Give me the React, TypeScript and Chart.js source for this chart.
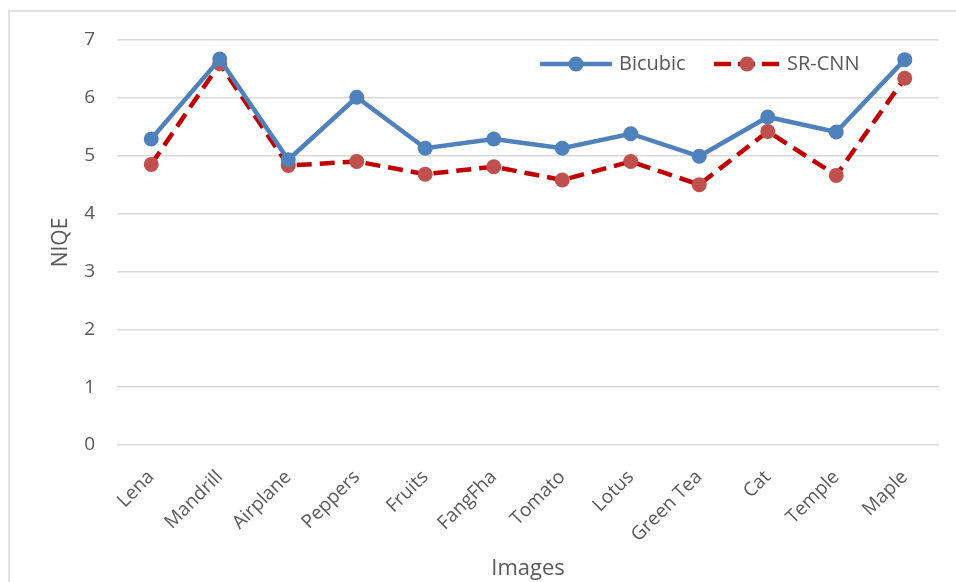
import React, { useEffect, useRef } from "react";
import { Chart, registerables } from "chart.js";

Chart.register(...registerables);

const categories = ["Lena", "Mandrill", "Airplane", "Peppers", "Fruits", "FangFha", "Tomato", "Lotus", "Green Tea", "Cat", "Temple", "Maple"];
const bicubic = [5.29, 6.67, 4.93, 6.01, 5.13, 5.29, 5.13, 5.38, 4.99, 5.67, 5.41, 6.66];
const srcnn = [4.85, 6.59, 4.83, 4.90, 4.68, 4.81, 4.58, 4.90, 4.50, 5.42, 4.66, 6.34];
const yTicks = [0, 1, 2, 3, 4, 5, 6, 7];

const FONT = "'Open Sans', 'Noto Sans', sans-serif";
const TEXT = "#595959";
const BLUE = "#4F81BD";
const RED_LINE = "#C00000";
const RED_PT = "#C0504D";

const framePlugin = {
  id: "frame",
  beforeDraw(chart: any) {
    const ctx = chart.ctx;
    ctx.save();
    ctx.fillStyle = "#ffffff";
    ctx.fillRect(0, 0, chart.width, chart.height);
    ctx.strokeStyle = "#D9D9D9";
    ctx.lineWidth = 1.5;
    ctx.strokeRect(9, 11, chart.width + 20, chart.height + 20);
    ctx.restore();
  },
};

const legendPlugin = {
  id: "customLegend",
  afterDraw(chart: any) {
    const ctx = chart.ctx;
    const area = chart.chartArea;
    const y = area.top + 24;
    const items = [
      { label: chart.data.datasets[0].label, x: area.right - 399, w: 72, line: BLUE, pt: BLUE, dash: [] as number[] },
      { label: chart.data.datasets[1].label, x: area.right - 225, w: 66, line: RED_LINE, pt: RED_PT, dash: [17, 7] },
    ];
    ctx.save();
    for (const it of items) {
      ctx.strokeStyle = it.line;
      ctx.lineWidth = 4.5;
      ctx.setLineDash(it.dash);
      ctx.lineCap = "butt";
      ctx.beginPath();
      ctx.moveTo(it.x, y);
      ctx.lineTo(it.x + it.w, y);
      ctx.stroke();
      ctx.setLineDash([]);
      ctx.fillStyle = it.pt;
      ctx.beginPath();
      ctx.arc(it.x + it.w / 2, y, 7.5, 0, Math.PI * 2);
      ctx.fill();
      ctx.fillStyle = TEXT;
      ctx.font = `20px ${FONT}`;
      ctx.textBaseline = "middle";
      ctx.textAlign = "left";
      ctx.fillText(it.label, it.x + it.w + 7, y);
    }
    ctx.restore();
  },
};

export default function App() {
  const ref = useRef<HTMLCanvasElement | null>(null);
  useEffect(() => {
    if (!ref.current) return;
    const chart = new Chart(ref.current, {
      type: "line",
      data: {
        labels: categories,
        datasets: [
          {
            label: "Bicubic",
            data: bicubic,
            borderColor: BLUE,
            backgroundColor: BLUE,
            borderWidth: 4.5,
            pointRadius: 7.5,
            pointHoverRadius: 7.5,
            pointBackgroundColor: BLUE,
            pointBorderWidth: 0,
            tension: 0,
          },
          {
            label: "SR-CNN",
            data: srcnn,
            borderColor: RED_LINE,
            backgroundColor: RED_PT,
            borderWidth: 4.5,
            borderDash: [15, 8],
            pointRadius: 7.5,
            pointHoverRadius: 7.5,
            pointBackgroundColor: RED_PT,
            pointBorderWidth: 0,
            tension: 0,
          },
        ],
      },
      options: {
        responsive: false,
        animation: false,
        layout: { padding: { left: 40, top: 40, right: 17, bottom: 0 } },
        plugins: { legend: { display: false }, tooltip: { enabled: false } },
        scales: {
          x: {
            offset: true,
            grid: { display: false, drawTicks: false },
            border: { display: false },
            ticks: {
              autoSkip: false,
              maxRotation: 45,
              minRotation: 45,
              padding: 21,
              color: TEXT,
              font: { family: FONT, size: 19 },
            },
            title: {
              display: true,
              text: "Images",
              color: TEXT,
              font: { family: FONT, size: 22 },
              padding: { top: 0, bottom: 0 },
            },
            afterFit(scale: any) {
              scale.height = 137;
            },
          },
          y: {
            min: 0,
            max: 7,
            afterBuildTicks(scale: any) {
              scale.ticks = yTicks.map((v) => ({ value: v }));
            },
            grid: { color: "#D9D9D9", lineWidth: 1.5, drawTicks: false },
            border: { display: false },
            ticks: {
              padding: 22,
              color: TEXT,
              font: { family: FONT, size: 19 },
            },
            title: {
              display: true,
              text: "NIQE",
              color: TEXT,
              font: { family: FONT, size: 21 },
              padding: { top: 8, bottom: 0 },
            },
            afterFit(scale: any) {
              scale.width = 77;
            },
          },
        },
      },
      plugins: [framePlugin, legendPlugin],
    });
    return () => chart.destroy();
  }, []);
  return (
    <div style={{ position: "fixed", left: 0, top: 0, width: 956, height: 582, background: "#fff" }}>
      <canvas ref={ref} width={956} height={582} style={{ width: 956, height: 582, display: "block" }} />
    </div>
  );
}
